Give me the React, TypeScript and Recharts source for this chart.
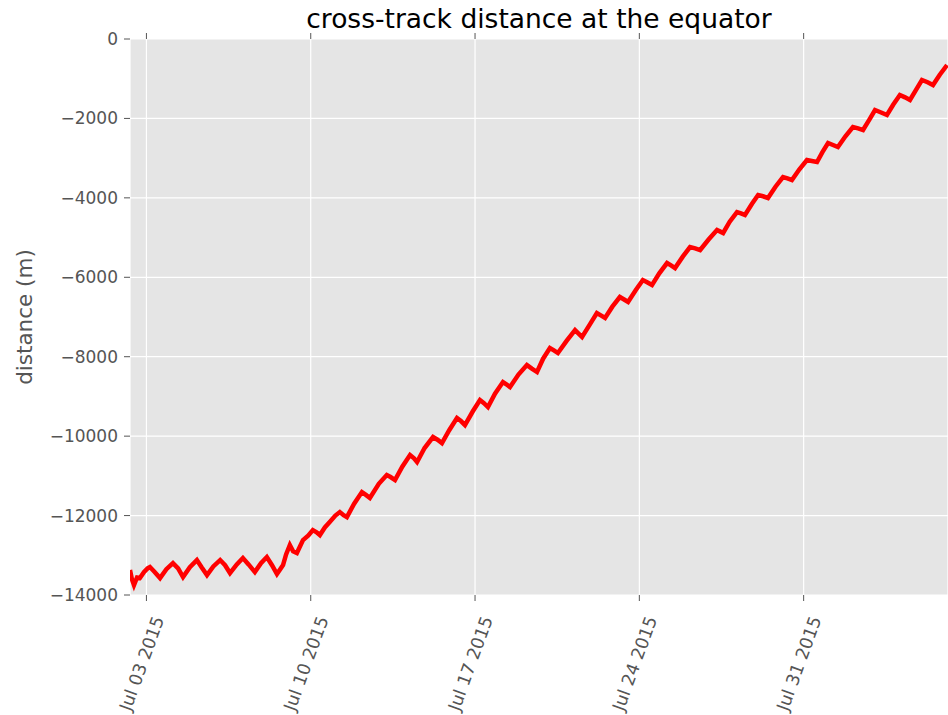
import { CartesianGrid, Line, LineChart, XAxis, YAxis } from "recharts";

// Day of July 2015 (fractional; 32 = Aug 01)
const dayOfJuly = [
  2.3, 2.38, 2.47, 2.6, 2.72, 2.9, 3.05, 3.15, 3.35, 3.58, 3.85, 4.13, 4.35, 4.56, 4.85, 5.15,
  5.35, 5.58, 5.85, 6.14, 6.35, 6.56, 6.85, 7.11, 7.35, 7.62, 7.88, 8.13, 8.35, 8.56, 8.7, 8.82,
  8.95, 9.11, 9.25, 9.41, 9.67, 9.9, 10.09, 10.25, 10.39, 10.6, 10.81, 11.05, 11.24, 11.4, 11.54,
  11.85, 12.18, 12.35, 12.52, 12.9, 13.24, 13.4, 13.59, 13.9, 14.23, 14.4, 14.53, 14.85, 15.21,
  15.4, 15.59, 15.9, 16.23, 16.4, 16.57, 16.9, 17.21, 17.38, 17.55, 17.85, 18.19, 18.35, 18.49,
  18.85, 19.21, 19.42, 19.64, 19.9, 20.19, 20.36, 20.53, 20.9, 21.26, 21.4, 21.56, 21.9, 22.19,
  22.36, 22.54, 22.85, 23.17, 23.35, 23.52, 23.85, 24.15, 24.35, 24.54, 24.85, 25.18, 25.35,
  25.52, 25.85, 26.16, 26.38, 26.59, 26.95, 27.31, 27.45, 27.57, 27.85, 28.16, 28.33, 28.5, 28.8,
  29.06, 29.27, 29.48, 29.8, 30.12, 30.31, 30.5, 30.82, 31.14, 31.35, 31.57, 31.8, 32.04, 32.25,
  32.46, 32.78, 33.1, 33.32, 33.53, 33.8, 34.04, 34.3, 34.55, 34.82, 35.1, 35.32, 35.53, 35.8,
  36.04, 36.28, 36.51, 36.8, 37.11,
];

// cross-track distance (m)
const distanceM = [
  -13372, -13600, -13750, -13560, -13573, -13420, -13330, -13296, -13420, -13573, -13350, -13196,
  -13330, -13548, -13300, -13120, -13300, -13497, -13280, -13120, -13250, -13447, -13230, -13070,
  -13230, -13422, -13200, -13044, -13250, -13472, -13350, -13246, -12980, -12742, -12900, -12944,
  -12616, -12500, -12365, -12420, -12490, -12300, -12163, -12000, -11911, -11990, -12037, -11700,
  -11408, -11480, -11559, -11200, -10979, -11030, -11105, -10770, -10476, -10560, -10652, -10300,
  -10023, -10090, -10174, -9850, -9544, -9620, -9720, -9380, -9091, -9170, -9267, -8930, -8638,
  -8700, -8764, -8450, -8210, -8300, -8386, -8050, -7781, -7840, -7907, -7600, -7328, -7410, -7504,
  -7180, -6900, -6960, -7026, -6740, -6497, -6560, -6623, -6320, -6069, -6130, -6195, -5900, -5641,
  -5700, -5767, -5480, -5238, -5270, -5313, -5050, -4810, -4850, -4885, -4600, -4357, -4390, -4432,
  -4150, -3928, -3960, -4004, -3720, -3475, -3510, -3551, -3280, -3047, -3070, -3097, -2850, -2619,
  -2670, -2720, -2450, -2216, -2250, -2292, -2030, -1788, -1850, -1914, -1650, -1410, -1470, -1536,
  -1270, -1032, -1090, -1158, -900, -655,
];

const dateTicks = [3, 10, 17, 24, 31];
const distanceTicks = [0, -2000, -4000, -6000, -8000, -10000, -12000, -14000];

const data = dayOfJuly.map((d, i) => ({ day: d, dist: distanceM[i] }));

const font = "'DejaVu Sans', sans-serif";
const grey = "#555555";

const fmtDate = (d: number) => {
  const m = d > 31 ? "Aug" : "Jul";
  const day = d > 31 ? d - 31 : d;
  return `${m} ${String(day).padStart(2, "0")} 2015`;
};
const fmtDist = (v: number) => (v < 0 ? `\u2212${Math.abs(v)}` : `${v}`);

// rotated date label, box centred under the tick like matplotlib does
function DateTick({ x, y, payload }: any) {
  return (
    <g transform={`translate(${x + 18},${y + 16})`}>
      <text transform="rotate(-70)" textAnchor="end" fontSize={17.5} fill={grey} fontFamily={font}>
        {fmtDate(payload.value)}
      </text>
    </g>
  );
}

export default function App() {
  return (
    <div style={{ position: "fixed", left: 0, top: 0, width: 948, height: 715, background: "#fff", fontFamily: font }}>
      <div
        style={{
          position: "absolute",
          left: 130,
          width: 818,
          top: 3,
          textAlign: "center",
          fontSize: 26.5,
          lineHeight: "normal",
          color: "#000",
          whiteSpace: "nowrap",
        }}
      >
        cross-track distance at the equator
      </div>
      <div
        style={{
          position: "absolute",
          left: 24,
          top: 317,
          transform: "translate(-50%, -50%) rotate(-90deg)",
          fontSize: 21.5,
          color: grey,
          whiteSpace: "nowrap",
        }}
      >
        distance (m)
      </div>
      <LineChart width={948} height={715} data={data} margin={{ top: 0, right: 0, left: 0, bottom: 0 }}>
        <CartesianGrid xAxisId="bottom" fill="#E5E5E5" stroke="#ffffff" strokeWidth={1.2} />
        <XAxis
          xAxisId="bottom"
          dataKey="day"
          type="number"
          domain={[2.3, 37.15]}
          ticks={dateTicks}
          allowDataOverflow
          height={120}
          axisLine={false}
          tickSize={6}
          tickLine={{ stroke: grey }}
          tick={<DateTick />}
        />
        <XAxis
          xAxisId="top"
          orientation="top"
          dataKey="day"
          type="number"
          domain={[2.3, 37.15]}
          ticks={dateTicks}
          tickFormatter={() => ""}
          allowDataOverflow
          height={39}
          axisLine={false}
          tickSize={6}
          tickLine={{ stroke: grey }}
        />
        <YAxis
          type="number"
          domain={[-14000, 0]}
          ticks={distanceTicks}
          tickFormatter={fmtDist}
          width={130}
          axisLine={false}
          tickSize={6}
          tickMargin={6}
          tickLine={{ stroke: grey }}
          tick={{ fontSize: 17, fill: grey, fontFamily: font }}
        />
        <Line
          xAxisId="bottom"
          type="linear"
          dataKey="dist"
          stroke="#FF0000"
          strokeWidth={4.5}
          dot={false}
          isAnimationActive={false}
        />
      </LineChart>
    </div>
  );
}
